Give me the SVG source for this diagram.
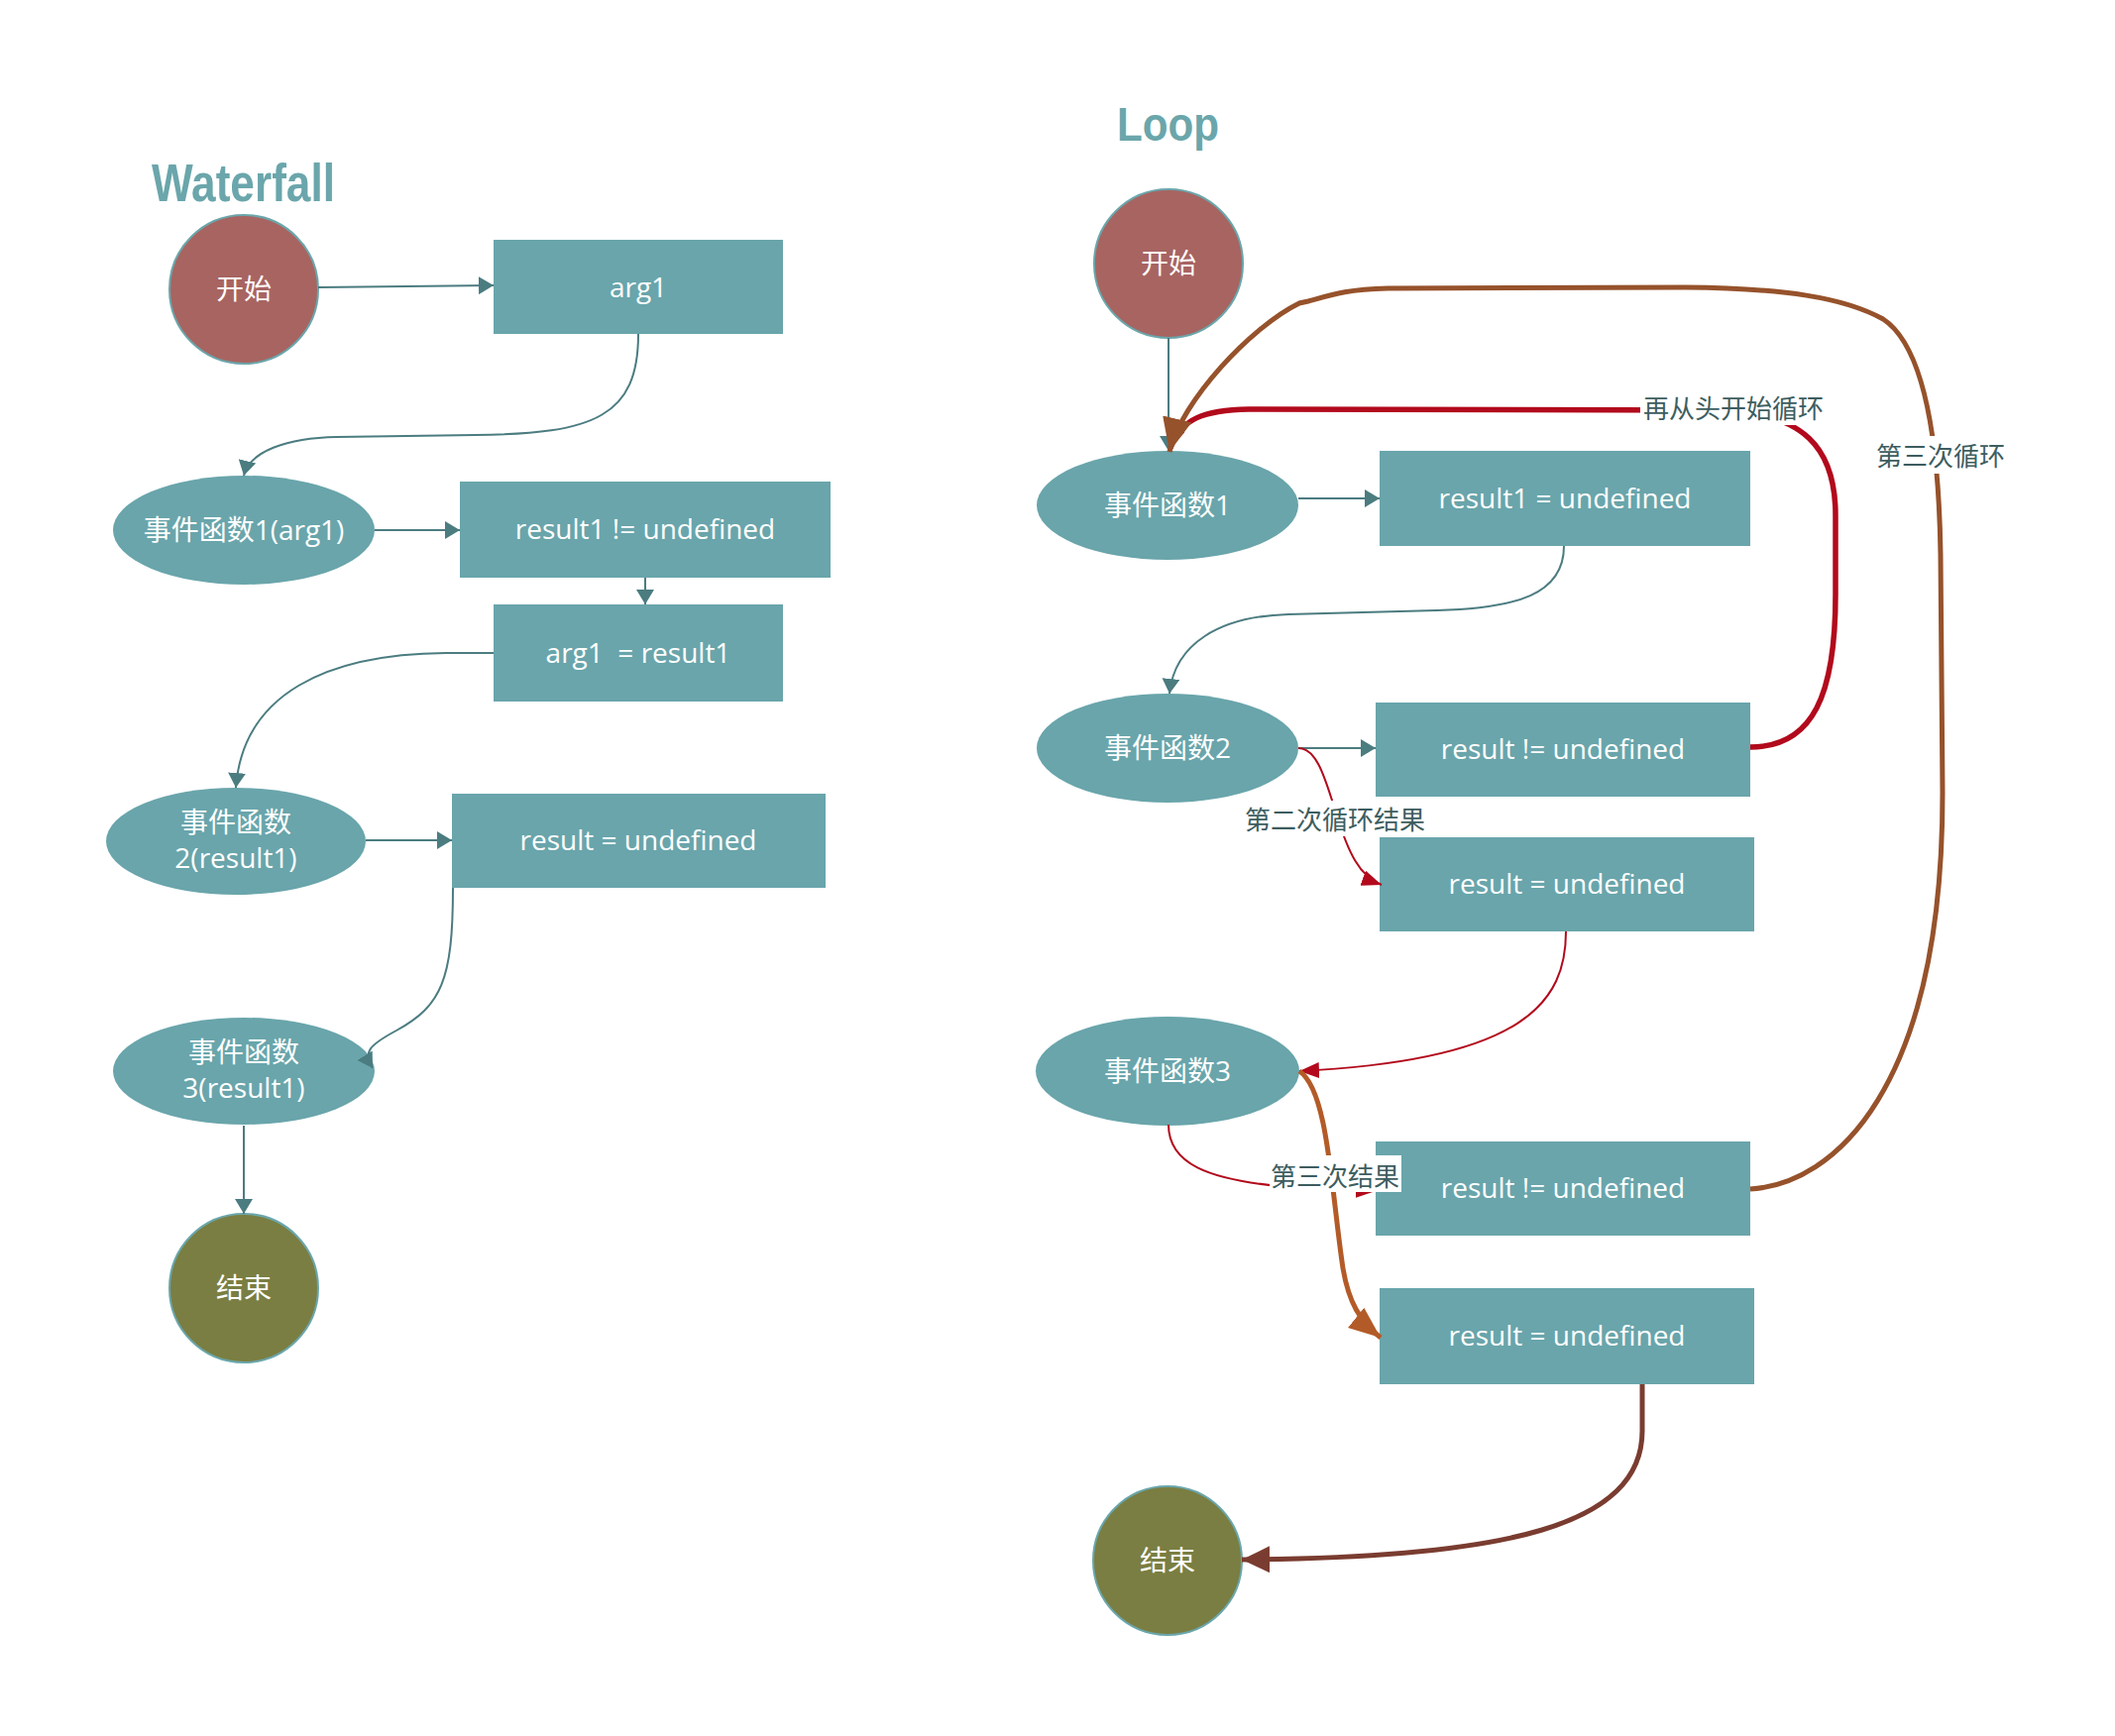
<svg xmlns="http://www.w3.org/2000/svg" width="2134" height="1752" viewBox="0 0 2134 1752">
<style>
.bg{fill:#ffffff}
.box{fill:#69a5ab}
.ell{fill:#69a5ab}
.start{fill:#a86461;stroke:#6aa6ab;stroke-width:2}
.end{fill:#7a7e42;stroke:#6aa6ab;stroke-width:2}
.t{font-family:"Open Sans","Noto Sans CJK SC",sans-serif;font-size:28px;fill:#ffffff;text-anchor:middle;white-space:pre}
.title{font-family:"Liberation Sans",Arial,sans-serif;font-weight:bold;fill:#6aa6ab}
.lbl{font-family:"Noto Sans CJK SC",sans-serif;font-size:26px;fill:#3d5d60}
.lblbg{fill:#ffffff}
.c{fill:none}
.teal{stroke:#4b7c80;stroke-width:2}
.red{stroke:#b20a1c;stroke-width:2}
.redthick{stroke:#b20a1c;stroke-width:5.5}
.brown{stroke:#96522b;stroke-width:5}
.orange{stroke:#b35b28;stroke-width:5}
.dark{stroke:#7a3c30;stroke-width:5}
</style>
<defs>
<marker id="aTeal" markerUnits="userSpaceOnUse" viewBox="0 0 15 18" markerWidth="15" markerHeight="18" refX="15" refY="9" orient="auto"><path d="M0,0 L15,9 L0,18 z" fill="#4b7c80"/></marker>
<marker id="aRed" markerUnits="userSpaceOnUse" viewBox="0 0 20 16" markerWidth="20" markerHeight="16" refX="20" refY="8" orient="auto"><path d="M0,0 L20,8 L0,16 z" fill="#b20a1c"/></marker>
<marker id="aBrown" markerUnits="userSpaceOnUse" viewBox="0 0 34 30" markerWidth="34" markerHeight="30" refX="34" refY="15" orient="auto"><path d="M0,0 L34,15 L0,30 z" fill="#96522b"/></marker>
<marker id="aOrange" markerUnits="userSpaceOnUse" viewBox="0 0 32 26" markerWidth="32" markerHeight="26" refX="32" refY="13" orient="auto"><path d="M0,0 L32,13 L0,26 z" fill="#b35b28"/></marker>
<marker id="aDark" markerUnits="userSpaceOnUse" viewBox="0 0 28 27" markerWidth="28" markerHeight="27" refX="28" refY="13.5" orient="auto"><path d="M0,0 L28,13.5 L0,27 z" fill="#7a3c30"/></marker>
</defs>
<rect class="bg" x="0" y="0" width="2134" height="1752"/>

<text class="title" x="153" y="203" font-size="54" textLength="185" lengthAdjust="spacingAndGlyphs">Waterfall</text>
<text class="title" x="1127" y="142" font-size="49" textLength="103" lengthAdjust="spacingAndGlyphs">Loop</text>

<!-- Waterfall nodes -->
<g id="w-start"><circle class="start" cx="246" cy="292" r="75"/><text class="t" x="246" y="302">开始</text></g>
<g id="w-arg1"><rect class="box" x="498" y="242" width="292" height="95"/><text class="t" x="644" y="300">arg1</text></g>
<g id="w-f1"><ellipse class="ell" cx="246" cy="535" rx="132" ry="55"/><text class="t" x="246" y="545">事件函数1(arg1)</text></g>
<g id="w-r1"><rect class="box" x="464" y="486" width="374" height="97"/><text class="t" x="651" y="544">result1 != undefined</text></g>
<g id="w-assign"><rect class="box" x="498" y="610" width="292" height="98"/><text class="t" x="644" y="669">arg1  = result1</text></g>
<g id="w-f2"><ellipse class="ell" cx="238" cy="849" rx="131" ry="54"/><text class="t" x="238" y="840">事件函数</text><text class="t" x="238" y="876">2(result1)</text></g>
<g id="w-r2"><rect class="box" x="456" y="801" width="377" height="95"/><text class="t" x="644" y="858">result = undefined</text></g>
<g id="w-f3"><ellipse class="ell" cx="246" cy="1081" rx="132" ry="54"/><text class="t" x="246" y="1072">事件函数</text><text class="t" x="246" y="1108">3(result1)</text></g>
<g id="w-end"><circle class="end" cx="246" cy="1300" r="75"/><text class="t" x="246" y="1310">结束</text></g>

<!-- Loop nodes -->
<g id="l-start"><circle class="start" cx="1179" cy="266" r="75"/><text class="t" x="1179" y="276">开始</text></g>
<g id="l-f1"><ellipse class="ell" cx="1178" cy="510" rx="132" ry="55"/><text class="t" x="1178" y="520">事件函数1</text></g>
<g id="l-r1"><rect class="box" x="1392" y="455" width="374" height="96"/><text class="t" x="1579" y="513">result1 = undefined</text></g>
<g id="l-f2"><ellipse class="ell" cx="1178" cy="755" rx="132" ry="55"/><text class="t" x="1178" y="765">事件函数2</text></g>
<g id="l-r2"><rect class="box" x="1388" y="709" width="378" height="95"/><text class="t" x="1577" y="766">result != undefined</text></g>
<g id="l-r3"><rect class="box" x="1392" y="845" width="378" height="95"/><text class="t" x="1581" y="902">result = undefined</text></g>
<g id="l-f3"><ellipse class="ell" cx="1178" cy="1081" rx="133" ry="55"/><text class="t" x="1178" y="1091">事件函数3</text></g>
<g id="l-r4"><rect class="box" x="1388" y="1152" width="378" height="95"/><text class="t" x="1577" y="1209">result != undefined</text></g>
<g id="l-r5"><rect class="box" x="1392" y="1300" width="378" height="97"/><text class="t" x="1581" y="1358">result = undefined</text></g>
<g id="l-end"><circle class="end" cx="1178" cy="1575" r="75"/><text class="t" x="1178" y="1585">结束</text></g>

<g id="connectors">
<path class="c teal" d="M321,290 L498,288" marker-end="url(#aTeal)"/>
<path class="c teal" d="M644,337 C644,420 600,438 480,439 L340,441 C290,442 252,455 246,480" marker-end="url(#aTeal)"/>
<path class="c teal" d="M651,583 L651,610" marker-end="url(#aTeal)"/>
<path class="c teal" d="M498,659 L450,659 C330,660 245,700 238,795" marker-end="url(#aTeal)"/>
<path class="c teal" d="M378,535 L464,535" marker-end="url(#aTeal)"/>
<path class="c teal" d="M369,848 L456,848" marker-end="url(#aTeal)"/>
<path class="c teal" d="M457,896 C457,990 445,1015 400,1040 C372,1055 366,1062 376,1078" marker-end="url(#aTeal)"/>
<path class="c teal" d="M246,1136 L246,1225" marker-end="url(#aTeal)"/>

<path class="c teal" d="M1179,341 L1179,455" marker-end="url(#aTeal)"/>
<path class="c teal" d="M1310,503 L1392,503" marker-end="url(#aTeal)"/>
<path class="c teal" d="M1578,551 C1578,600 1530,614 1450,616 L1300,620 C1230,622 1185,650 1180,700" marker-end="url(#aTeal)"/>
<path class="c teal" d="M1310,755 L1388,755" marker-end="url(#aTeal)"/>

<path class="c red" d="M1310,755 C1330,755 1338,790 1348,820 C1360,860 1372,885 1394,893" marker-end="url(#aRed)"/>
<path class="c red" d="M1580,940 C1580,1010 1540,1070 1311,1081" marker-end="url(#aRed)"/>
<path class="c red" d="M1179,1135 C1179,1175 1220,1190 1290,1197 L1388,1202" marker-end="url(#aRed)"/>
<path class="c redthick" d="M1766,754 C1830,754 1852,700 1852,600 L1852,520 C1852,450 1818,418 1740,414 L1260,413 C1215,414 1192,422 1181,452" marker-end="url(#aRed)"/>

<path class="c orange" d="M1311,1081 C1340,1100 1343,1200 1355,1280 C1361,1315 1372,1333 1393,1350" marker-end="url(#aOrange)"/>
<path class="c dark" d="M1657,1397 L1657,1444 C1657,1540 1520,1572 1253,1574" marker-end="url(#aDark)"/>
<path class="c brown" d="M1766,1200 C1850,1195 1960,1100 1960,800 L1958,560 C1956,420 1935,345 1900,322 C1860,300 1800,291 1700,290 L1400,291 C1360,292 1345,297 1320,304 L1311,306 C1262,330 1192,405 1180,456" marker-end="url(#aBrown)"/>
</g>

<g id="labels">
<rect class="lblbg" x="1655" y="395" width="190" height="34"/>
<text class="lbl" x="1658" y="422">再从头开始循环</text>
<rect class="lblbg" x="1890" y="440" width="137" height="38"/>
<text class="lbl" x="1893" y="470">第三次循环</text>
<rect class="lblbg" x="1254" y="808" width="188" height="36"/>
<text class="lbl" x="1256" y="837">第二次循环结果</text>
<rect class="lblbg" x="1281" y="1166" width="133" height="37"/>
<text class="lbl" x="1282" y="1197">第三次结果</text>
</g>
</svg>
